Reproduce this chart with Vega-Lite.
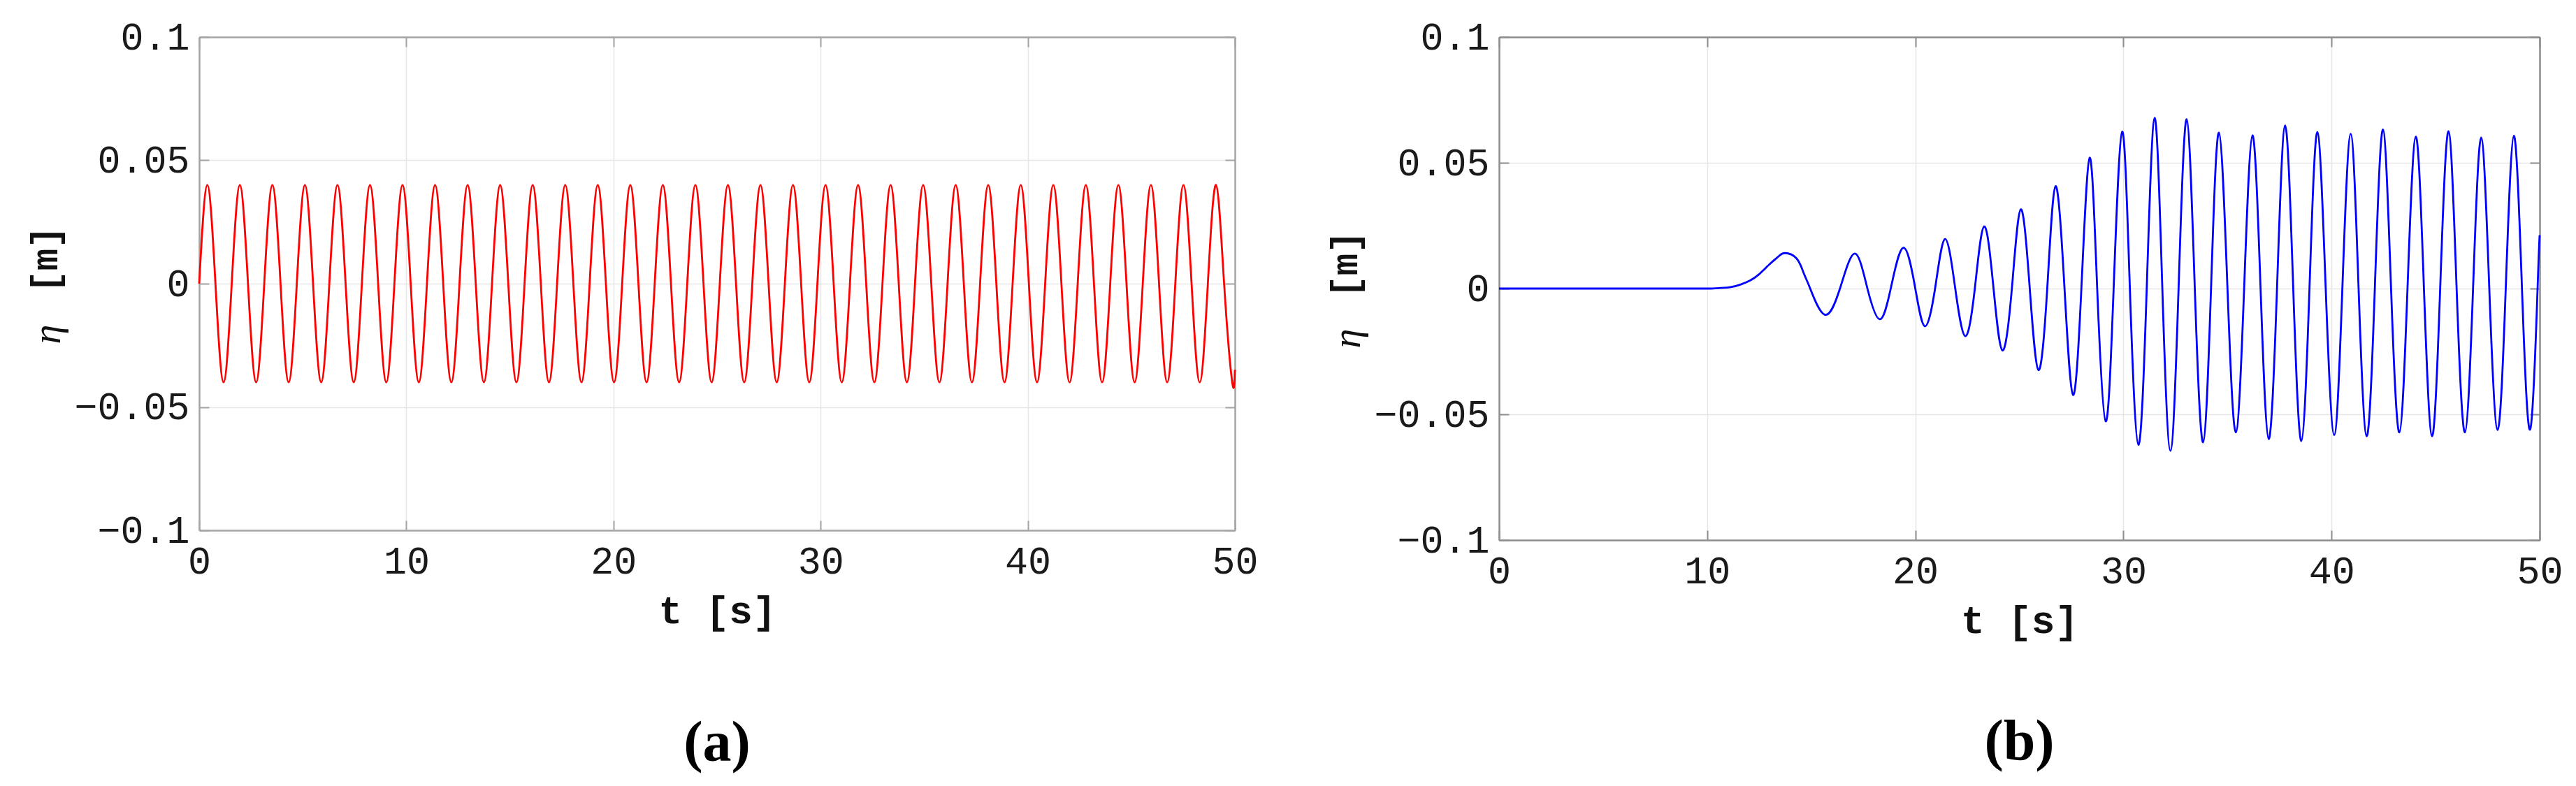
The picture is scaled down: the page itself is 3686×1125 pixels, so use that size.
{
  "$schema": "https://vega.github.io/schema/vega-lite/v6.json",
  "autosize": {"type": "pad"},
  "padding": {"left": 39, "top": 26, "right": 10, "bottom": 10},
  "background": "white",
  "spacing": 98,
  "datasets": {
    "a": [
      {"t":0,"v":0},{"t":0.3927,"v":0.04},{"t":0.7854,"v":0},{"t":1.1781,"v":-0.04},
      {"t":1.5708,"v":0},{"t":1.9635,"v":0.04},{"t":2.3562,"v":0},{"t":2.7489,"v":-0.04},
      {"t":3.1416,"v":0},{"t":3.5343,"v":0.04},{"t":3.927,"v":0},{"t":4.3197,"v":-0.04},
      {"t":4.7124,"v":0},{"t":5.1051,"v":0.04},{"t":5.4978,"v":0},{"t":5.8905,"v":-0.04},
      {"t":6.2832,"v":0},{"t":6.6759,"v":0.04},{"t":7.0686,"v":0},{"t":7.4613,"v":-0.04},
      {"t":7.854,"v":0},{"t":8.2467,"v":0.04},{"t":8.6394,"v":0},{"t":9.0321,"v":-0.04},
      {"t":9.4248,"v":0},{"t":9.8175,"v":0.04},{"t":10.2102,"v":0},{"t":10.6029,"v":-0.04},
      {"t":10.9956,"v":0},{"t":11.3883,"v":0.04},{"t":11.781,"v":0},{"t":12.1737,"v":-0.04},
      {"t":12.5664,"v":0},{"t":12.9591,"v":0.04},{"t":13.3518,"v":0},{"t":13.7445,"v":-0.04},
      {"t":14.1372,"v":0},{"t":14.5299,"v":0.04},{"t":14.9226,"v":0},{"t":15.3153,"v":-0.04},
      {"t":15.708,"v":0},{"t":16.1007,"v":0.04},{"t":16.4934,"v":0},{"t":16.8861,"v":-0.04},
      {"t":17.2788,"v":0},{"t":17.6715,"v":0.04},{"t":18.0642,"v":0},{"t":18.4569,"v":-0.04},
      {"t":18.8496,"v":0},{"t":19.2423,"v":0.04},{"t":19.635,"v":0},{"t":20.0277,"v":-0.04},
      {"t":20.4204,"v":0},{"t":20.8131,"v":0.04},{"t":21.2058,"v":0},{"t":21.5985,"v":-0.04},
      {"t":21.9911,"v":0},{"t":22.3838,"v":0.04},{"t":22.7765,"v":0},{"t":23.1692,"v":-0.04},
      {"t":23.5619,"v":0},{"t":23.9546,"v":0.04},{"t":24.3473,"v":0},{"t":24.74,"v":-0.04},
      {"t":25.1327,"v":0},{"t":25.5254,"v":0.04},{"t":25.9181,"v":0},{"t":26.3108,"v":-0.04},
      {"t":26.7035,"v":0},{"t":27.0962,"v":0.04},{"t":27.4889,"v":0},{"t":27.8816,"v":-0.04},
      {"t":28.2743,"v":0},{"t":28.667,"v":0.04},{"t":29.0597,"v":0},{"t":29.4524,"v":-0.04},
      {"t":29.8451,"v":0},{"t":30.2378,"v":0.04},{"t":30.6305,"v":0},{"t":31.0232,"v":-0.04},
      {"t":31.4159,"v":0},{"t":31.8086,"v":0.04},{"t":32.2013,"v":0},{"t":32.594,"v":-0.04},
      {"t":32.9867,"v":0},{"t":33.3794,"v":0.04},{"t":33.7721,"v":0},{"t":34.1648,"v":-0.04},
      {"t":34.5575,"v":0},{"t":34.9502,"v":0.04},{"t":35.3429,"v":0},{"t":35.7356,"v":-0.04},
      {"t":36.1283,"v":0},{"t":36.521,"v":0.04},{"t":36.9137,"v":0},{"t":37.3064,"v":-0.04},
      {"t":37.6991,"v":0},{"t":38.0918,"v":0.04},{"t":38.4845,"v":0},{"t":38.8772,"v":-0.04},
      {"t":39.2699,"v":0},{"t":39.6626,"v":0.04},{"t":40.0553,"v":0},{"t":40.448,"v":-0.04},
      {"t":40.8407,"v":0},{"t":41.2334,"v":0.04},{"t":41.6261,"v":0},{"t":42.0188,"v":-0.04},
      {"t":42.4115,"v":0},{"t":42.8042,"v":0.04},{"t":43.1969,"v":0},{"t":43.5896,"v":-0.04},
      {"t":43.9823,"v":0},{"t":44.375,"v":0.04},{"t":44.7677,"v":0},{"t":45.1604,"v":-0.04},
      {"t":45.5531,"v":0},{"t":45.9458,"v":0.04},{"t":46.3385,"v":0},{"t":46.7312,"v":-0.04},
      {"t":47.1239,"v":0},{"t":47.5166,"v":0.04},{"t":47.9093,"v":0},{"t":48.302,"v":-0.04},
      {"t":48.6947,"v":0},{"t":49.0874,"v":0.04},{"t":49.4801,"v":0},{"t":49.8728,"v":-0.04},
      {"t":50,"v":-0.0349}
    ],
    "b": [
      {"t":0,"v":0},{"t":2,"v":0},{"t":4,"v":0},{"t":6,"v":0},{"t":8,"v":0},{"t":9,"v":0},{"t":10,"v":0},
      {"t":10.4,"v":0.0001},{"t":11.09,"v":0.0005},{"t":11.64,"v":0.0017},{"t":12.06,"v":0.0032},
      {"t":12.48,"v":0.0056},{"t":13.04,"v":0.01},{"t":13.45,"v":0.0129},{"t":13.73,"v":0.0141},
      {"t":14.29,"v":0.012},{"t":14.64,"v":0.0061},{"t":14.95,"v":0},
      {"t":15.65,"v":-0.0104},{"t":16.38,"v":0},{"t":17.09,"v":0.0139},{"t":17.7,"v":0},
      {"t":18.29,"v":-0.0122},{"t":18.82,"v":0},{"t":19.43,"v":0.0162},{"t":20.0,"v":0},
      {"t":20.46,"v":-0.015},{"t":20.95,"v":0},{"t":21.43,"v":0.0197},{"t":21.92,"v":0},
      {"t":22.4,"v":-0.0189},{"t":22.86,"v":0},{"t":23.31,"v":0.0247},{"t":23.76,"v":0},
      {"t":24.19,"v":-0.0246},{"t":24.64,"v":0},{"t":25.07,"v":0.0315},{"t":25.5,"v":0},
      {"t":25.92,"v":-0.0324},{"t":26.34,"v":0},{"t":26.74,"v":0.0407},{"t":27.17,"v":0},
      {"t":27.58,"v":-0.0423},{"t":27.98,"v":0},{"t":28.38,"v":0.052},{"t":28.74,"v":0},
      {"t":29.15,"v":-0.0528},{"t":29.53,"v":0},{"t":29.94,"v":0.0624},{"t":30.31,"v":0},
      {"t":30.72,"v":-0.0621},{"t":31.12,"v":0},{"t":31.5,"v":0.0678},{"t":31.87,"v":0},
      {"t":32.26,"v":-0.0645},{"t":32.65,"v":0},{"t":33.04,"v":0.0673},{"t":33.43,"v":0},
      {"t":33.83,"v":-0.0611},{"t":34.21,"v":0},{"t":34.59,"v":0.062},{"t":35.0,"v":0},
      {"t":35.4,"v":-0.0572},{"t":35.8,"v":0},{"t":36.2,"v":0.0609},{"t":36.59,"v":0},
      {"t":36.98,"v":-0.0598},{"t":37.38,"v":0},{"t":37.77,"v":0.0648},{"t":38.16,"v":0},
      {"t":38.55,"v":-0.0606},{"t":38.94,"v":0},{"t":39.32,"v":0.0622},{"t":39.72,"v":0},
      {"t":40.13,"v":-0.0582},{"t":40.52,"v":0},{"t":40.92,"v":0.0615},{"t":41.3,"v":0},
      {"t":41.69,"v":-0.0587},{"t":42.08,"v":0},{"t":42.47,"v":0.0632},{"t":42.86,"v":0},
      {"t":43.26,"v":-0.0572},{"t":43.65,"v":0},{"t":44.05,"v":0.0604},{"t":44.44,"v":0},
      {"t":44.83,"v":-0.0587},{"t":45.22,"v":0},{"t":45.62,"v":0.0625},{"t":46.01,"v":0},
      {"t":46.41,"v":-0.0572},{"t":46.8,"v":0},{"t":47.19,"v":0.06},{"t":47.58,"v":0},
      {"t":47.98,"v":-0.0562},{"t":48.37,"v":0},{"t":48.76,"v":0.0607},{"t":49.15,"v":0},
      {"t":49.55,"v":-0.0559},{"t":49.9,"v":0},{"t":50,"v":0.0212}
    ]
  },
  "config": {
    "view": {"stroke": null},
    "axis": {
      "labelFont": "Liberation Mono", "labelFontSize": 55, "labelColor": "#1a1a1a",
      "titleFont": "Liberation Mono", "titleFontWeight": "bold", "titleFontSize": 56, "titleColor": "#111111",
      "tickSize": -14, "tickWidth": 2, "domainWidth": 2.5,
      "gridColor": "#e6e6e6", "gridWidth": 1.5, "labelFlush": false, "labelOverlap": false
    },
    "title": {"font": "Liberation Serif", "fontSize": 82, "fontWeight": "bold", "color": "#000000", "orient": "bottom", "anchor": "middle", "offset": 128}
  },
  "hconcat": [
    {
      "width": 1482, "height": 706,
      "title": {"text": "(a)", "offset": 122},
      "data": {"name": "a"},
      "layer": [
        {
          "mark": {"type": "line", "color": "#ff0000", "strokeWidth": 2.8, "interpolate": "natural"},
          "encoding": {
            "x": {"field": "t", "type": "quantitative", "scale": {"domain": [0, 50], "nice": false, "zero": false},
                  "axis": {"orient": "bottom", "values": [0,10,20,30,40,50], "grid": true, "title": "t [s]", "format": "d",
                           "labelPadding": 32, "titlePadding": 16, "domainColor": "#a5a5a5", "tickColor": "#a5a5a5"}},
            "y": {"field": "v", "type": "quantitative", "scale": {"domain": [-0.1, 0.1], "nice": false},
                  "axis": {"orient": "left", "values": [-0.1,-0.05,0,0.05,0.1], "grid": true, "format": "~g",
                           "labelPadding": 28, "title": "[m]", "titleFontSize": 53, "titleX": -193, "titleY": 318, "titleAngle": 270,
                           "titleBaseline": "bottom", "titleAlign": "center", "domainColor": "#a5a5a5", "tickColor": "#a5a5a5"}}
          }
        },
        {
          "mark": {"type": "line", "strokeOpacity": 0},
          "encoding": {
            "x": {"field": "t", "type": "quantitative", "scale": {"domain": [0, 50], "nice": false, "zero": false},
                  "axis": {"orient": "top", "values": [0,10,20,30,40,50], "labels": false, "grid": false, "title": null,
                           "domainColor": "#a5a5a5", "tickColor": "#a5a5a5"}},
            "y": {"field": "v", "type": "quantitative", "scale": {"domain": [-0.1, 0.1], "nice": false},
                  "axis": {"orient": "right", "values": [-0.1,-0.05,0,0.05,0.1], "labels": false, "grid": false, "title": null,
                           "domainColor": "#a5a5a5", "tickColor": "#a5a5a5"}}
          }
        },
        {
          "mark": {"type": "line", "strokeOpacity": 0},
          "encoding": {
            "x": {"field": "t", "type": "quantitative", "scale": {"domain": [0, 50], "nice": false, "zero": false}, "axis": null},
            "y": {"field": "v", "type": "quantitative", "scale": {"domain": [-0.1, 0.1], "nice": false},
                  "axis": {"orient": "left", "labels": false, "ticks": false, "domain": false, "grid": false,
                           "title": "η", "titleFont": "Liberation Serif", "titleFontStyle": "italic", "titleFontWeight": "normal",
                           "titleFontSize": 56, "titleX": -188, "titleY": 425, "titleAngle": 270, "titleBaseline": "bottom", "titleAlign": "center"}}
          }
        }
      ],
      "resolve": {"axis": {"x": "independent", "y": "independent"}}
    },
    {
      "width": 1489, "height": 720,
      "title": {"text": "(b)", "offset": 106},
      "data": {"name": "b"},
      "layer": [
        {
          "mark": {"type": "line", "color": "#0000ff", "strokeWidth": 2.8, "interpolate": "natural"},
          "encoding": {
            "x": {"field": "t", "type": "quantitative", "scale": {"domain": [0, 50], "nice": false, "zero": false},
                  "axis": {"orient": "bottom", "values": [0,10,20,30,40,50], "grid": true, "title": "t [s]", "format": "d",
                           "labelPadding": 32, "titlePadding": 16, "domainColor": "#8e8e8e", "tickColor": "#8e8e8e"}},
            "y": {"field": "v", "type": "quantitative", "scale": {"domain": [-0.1, 0.1], "nice": false},
                  "axis": {"orient": "left", "values": [-0.1,-0.05,0,0.05,0.1], "grid": true, "format": "~g",
                           "labelPadding": 28, "title": "[m]", "titleFontSize": 53, "titleX": -193, "titleY": 325, "titleAngle": 270,
                           "titleBaseline": "bottom", "titleAlign": "center", "domainColor": "#8e8e8e", "tickColor": "#8e8e8e"}}
          }
        },
        {
          "mark": {"type": "line", "strokeOpacity": 0},
          "encoding": {
            "x": {"field": "t", "type": "quantitative", "scale": {"domain": [0, 50], "nice": false, "zero": false},
                  "axis": {"orient": "top", "values": [0,10,20,30,40,50], "labels": false, "grid": false, "title": null,
                           "domainColor": "#8e8e8e", "tickColor": "#8e8e8e"}},
            "y": {"field": "v", "type": "quantitative", "scale": {"domain": [-0.1, 0.1], "nice": false},
                  "axis": {"orient": "right", "values": [-0.1,-0.05,0,0.05,0.1], "labels": false, "grid": false, "title": null,
                           "domainColor": "#8e8e8e", "tickColor": "#8e8e8e"}}
          }
        },
        {
          "mark": {"type": "line", "strokeOpacity": 0},
          "encoding": {
            "x": {"field": "t", "type": "quantitative", "scale": {"domain": [0, 50], "nice": false, "zero": false}, "axis": null},
            "y": {"field": "v", "type": "quantitative", "scale": {"domain": [-0.1, 0.1], "nice": false},
                  "axis": {"orient": "left", "labels": false, "ticks": false, "domain": false, "grid": false,
                           "title": "η", "titleFont": "Liberation Serif", "titleFontStyle": "italic", "titleFontWeight": "normal",
                           "titleFontSize": 56, "titleX": -188, "titleY": 431, "titleAngle": 270, "titleBaseline": "bottom", "titleAlign": "center"}}
          }
        }
      ],
      "resolve": {"axis": {"x": "independent", "y": "independent"}}
    }
  ]
}
